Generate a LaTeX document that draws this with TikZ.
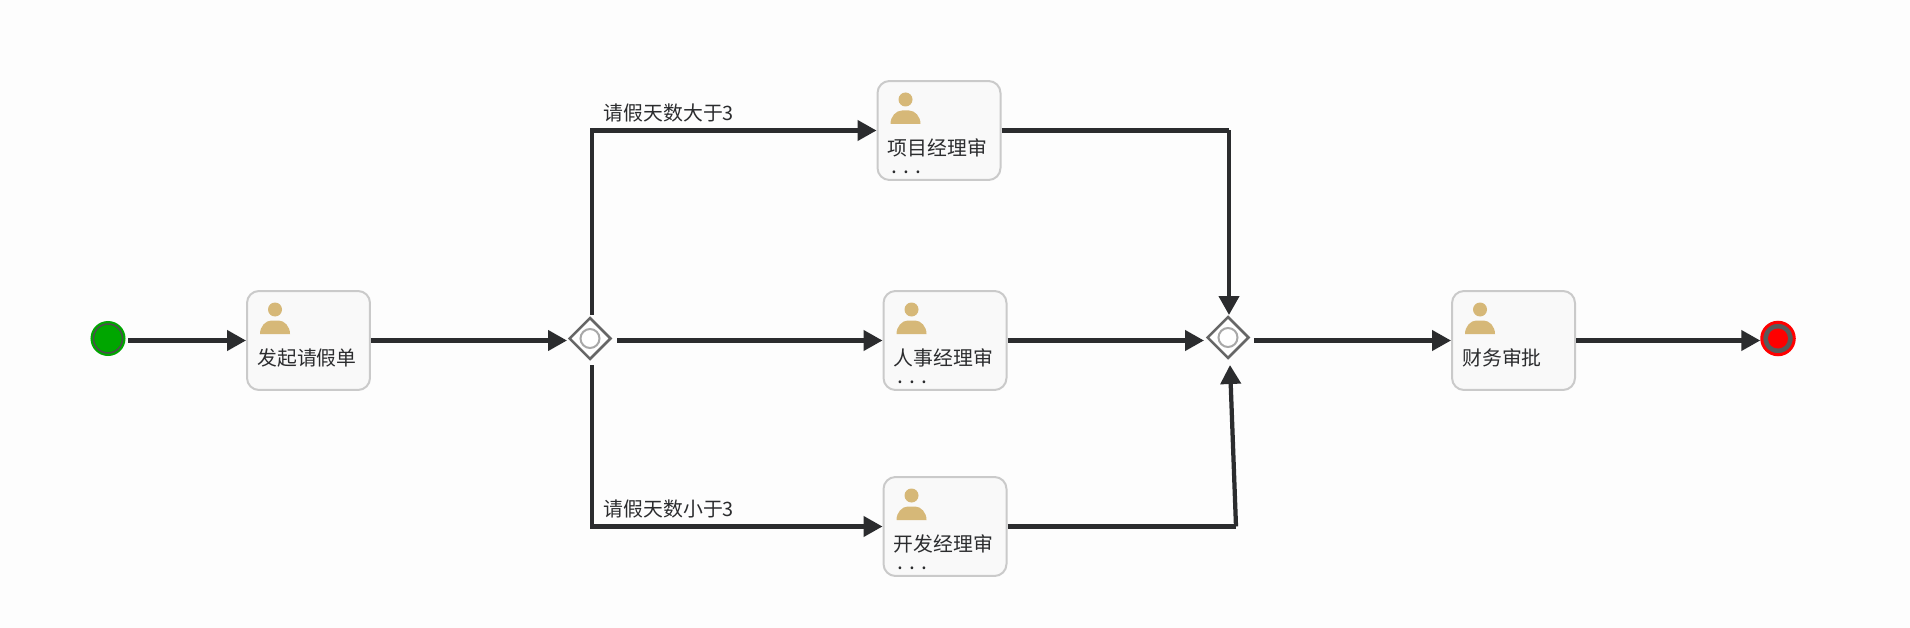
\documentclass[tikz,border=0pt]{standalone}
\usepackage{fontspec}
\setmainfont{Noto Sans CJK SC}
\usetikzlibrary{arrows.meta,shapes.geometric}
\definecolor{flowline}{HTML}{2B2C2E}
\definecolor{taskedge}{HTML}{CACACA}
\definecolor{taskfill}{HTML}{F9F9F9}
\definecolor{usercol}{HTML}{D6B878}
\definecolor{gateedge}{HTML}{666666}
\definecolor{ringcol}{HTML}{A8A8A8}
\tikzset{
  flow/.style={line width=.085cm,draw=flowline,-{Triangle[length=.38cm,width=.4cm]}},
  plainflow/.style={line width=.085cm,draw=flowline},
  taskbox/.style={draw=taskedge,fill=taskfill,line width=.04cm,rounded corners=.24cm,
    minimum width=2.46cm,minimum height=1.98cm,inner sep=0pt},
  tasktext/.style={text=flowline,font=\fontsize{11.3pt}{13pt}\selectfont,anchor=west,inner sep=0pt},
  flowlabel/.style={text=flowline,font=\fontsize{11.3pt}{13pt}\selectfont,anchor=west,inner sep=0pt},
  gatebox/.style={diamond,draw=gateedge,fill=white,line width=.05cm,aspect=1,
    minimum width=.84cm,minimum height=.84cm,inner sep=0pt},
  gatering/.style={circle,draw=ringcol,line width=.04cm,minimum size=.38cm,inner sep=0pt},
}
\begin{document}
\begin{tikzpicture}[x=.02cm,y=-.02cm]
  \fill[white!99.4!black] (0,0) rectangle (1910,628);
  \useasboundingbox (0,0) rectangle (1910,628);
  % start and end events
  \node[circle,draw=green!65!black,fill=green!65!black,line width=.04cm,minimum size=.66cm,inner sep=0pt] (start) at (108,338.5) {};
  \draw[gray!60!black,line width=.03cm] (108,338.5) circle (14.5);
  \node[circle,draw=red,fill=black!65,line width=.06cm,minimum size=.65cm,inner sep=0pt] (end) at (1778,338.5) {};
  \fill[red] (1778,338.5) circle (10);
  % user tasks
  \foreach \n/\x/\y/\t in {apply/308.5/340.5/发起请假单, pm/939/130.5/项目经理审, hr/945/340.5/人事经理审,
    dev/945/526.5/开发经理审, fin/1513.5/340.5/财务审批}{
    \node[taskbox] (\n) at (\x,\y) {};
    \fill[usercol] (\x-33.5,\y-31) circle (7);
    \fill[usercol] (\x-48.5,\y-6.5) .. controls (\x-48.5,\y-14) and (\x-43,\y-20) .. (\x-37,\y-20)
      -- (\x-30,\y-20) .. controls (\x-24,\y-20) and (\x-18.5,\y-14) .. (\x-18.5,\y-6.5) -- cycle;
    \node[tasktext] (\n text) at (\x-51.5,\y+17.5) {\t};
  }
  \foreach \n/\x/\y in {pm/939/130.5,hr/945/340.5,dev/945/526.5}
    \node[tasktext,font=\fontsize{12pt}{13pt}\selectfont] (\n dots) at (\x-48,\y+42) {.\hspace{3.5pt}.\hspace{3.5pt}.};
  % gateways
  \node[gatebox] (fork) at (590,338.5) {};
  \node[gatering] (forkring) at (fork) {};
  \node[gatebox] (join) at (1228,337.5) {};
  \node[gatering] (joinring) at (join) {};
  % free ends of the connectors round the gateways
  \coordinate (forkup) at (592,315);
  \coordinate (forkdown) at (592,365);
  \coordinate (forkright) at (617,340.5);
  \coordinate (joinup) at (1229,130.5);
  \coordinate (joinuptip) at (1229,315);
  \coordinate (joindown) at (1236,526.5);
  \coordinate (joindowntip) at (1230,365);
  \coordinate (joinleft) at (1204,340.5);
  \coordinate (joinright) at (1254,340.5);
  % sequence flows
  \draw[flow,shorten <=.06cm] (start.east |- apply.west) -- (apply.west);
  \draw[flow] (apply.east) -- (567,340.5);
  \draw[flow] (forkup) |- (pm.west);
  \draw[flow] (forkright) -- (hr.west);
  \draw[flow] (forkdown) |- (dev.west);
  \draw[plainflow] (pm.east) -- (joinup);
  \draw[flow] (joinup) -- (joinuptip);
  \draw[flow] (hr.east) -- (joinleft);
  \draw[plainflow] (dev.east) -- (joindown);
  \draw[flow] (joindown) -- (joindowntip);
  \draw[flow] (joinright) -- (fin.west);
  \draw[flow] (fin.east) -- (end.west |- fin.east);
  % conditions
  \node[flowlabel] (overthree) at (603.5,113) {请假天数大于3};
  \node[flowlabel] (underthree) at (603.5,509) {请假天数小于3};
\end{tikzpicture}
\end{document}
